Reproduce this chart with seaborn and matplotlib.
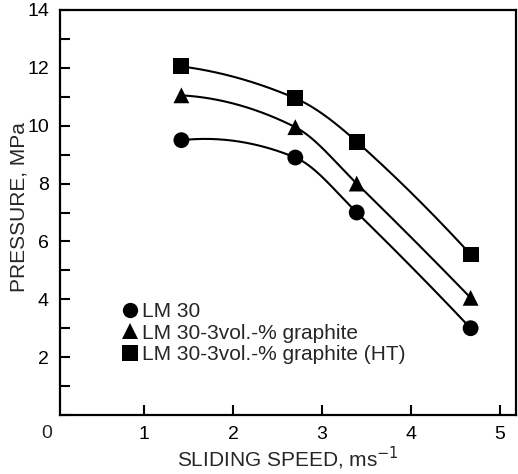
import numpy as np
import pandas as pd
import matplotlib
matplotlib.use("Agg")
import matplotlib.pyplot as plt
import seaborn as sns

# data
speed = [1.42, 2.70, 3.39, 4.67]
lm30 = [9.5, 8.9, 7.0, 3.0]
lm30_gr = [11.05, 9.95, 8.0, 4.05]
lm30_gr_ht = [12.05, 10.95, 9.45, 5.55]
series = ["LM 30", "LM 30-3vol.-% graphite", "LM 30-3vol.-% graphite (HT)"]
markers = {"LM 30": "o", "LM 30-3vol.-% graphite": "^", "LM 30-3vol.-% graphite (HT)": "s"}

sns.set_style("ticks")
plt.rcParams["font.family"] = ["Liberation Sans", "DejaVu Sans"]


def smooth(x, y, xs):
    # cubic hermite with central-difference slopes (smooth guide curve)
    x = np.asarray(x, float)
    y = np.asarray(y, float)
    h = np.diff(x)
    d = np.diff(y) / h
    m = np.zeros_like(y)
    for k in range(1, len(x) - 1):
        m[k] = (y[k + 1] - y[k - 1]) / (x[k + 1] - x[k - 1])
    m[0] = 2 * d[0] - m[1]
    m[-1] = 2 * d[-1] - m[-2]
    out = []
    for v in xs:
        k = min(np.searchsorted(x, v, side="right") - 1, len(x) - 2)
        t = (v - x[k]) / h[k]
        h00 = 2 * t**3 - 3 * t**2 + 1
        h10 = t**3 - 2 * t**2 + t
        h01 = -2 * t**3 + 3 * t**2
        h11 = t**3 - t**2
        out.append(h00 * y[k] + h10 * h[k] * m[k] + h01 * y[k + 1] + h11 * h[k] * m[k + 1])
    return np.array(out)


rows = []
for name, vals in zip(series, [lm30, lm30_gr, lm30_gr_ht]):
    for x, y in zip(speed, vals):
        rows.append({"speed": x, "pressure": y, "series": name})
df = pd.DataFrame(rows)

curves = []
xs = np.linspace(speed[0], speed[-1], 200)
for name, vals in zip(series, [lm30, lm30_gr, lm30_gr_ht]):
    for x, y in zip(xs, smooth(speed, vals, xs)):
        curves.append({"speed": x, "pressure": y, "series": name})
cdf = pd.DataFrame(curves)

fig = plt.figure(figsize=(5.18, 4.74), dpi=100)
ax = fig.add_axes([60 / 518, 1 - 415 / 474, 456 / 518, 405 / 474])

sns.lineplot(data=cdf, x="speed", y="pressure", units="series", estimator=None,
             color="black", lw=1.5, ax=ax, legend=False)
sns.scatterplot(data=df, x="speed", y="pressure", style="series", markers=markers,
                color="black", s=130, edgecolor="black", linewidth=0, ax=ax)

ax.set_xlim(0.056, 5.18)
ax.set_ylim(0, 14)
ax.set_xticks([1, 2, 3, 4, 5])
ax.set_yticks(range(0, 15))
ax.set_yticklabels(["" if v % 2 or v == 0 else str(v) for v in range(0, 15)])
ax.tick_params(direction="in", length=7, width=1.5, labelsize=14, colors="black")
ax.tick_params(axis="x", pad=8)
ax.tick_params(axis="y", pad=8)
for sp in ax.spines.values():
    sp.set_linewidth(1.6)
    sp.set_color("black")
ax.text(-0.09, -0.025, "0", transform=ax.get_xaxis_transform(), ha="center", va="top", fontsize=14)

ax.set_xlabel("SLIDING SPEED, ms$^{-1}$", fontsize=15, labelpad=1)
ax.set_ylabel("PRESSURE, MPa", fontsize=15)
ax.yaxis.set_label_coords(-0.069, 0.513)

leg = ax.legend(loc="lower left", bbox_to_anchor=(0.113, 0.105), frameon=False,
                fontsize=15, handletextpad=0.05, labelspacing=0.12,
                borderaxespad=0, handlelength=1.0)
for h in leg.legend_handles:
    h.set_markersize(11)

fig.savefig("out.png", dpi=100)
